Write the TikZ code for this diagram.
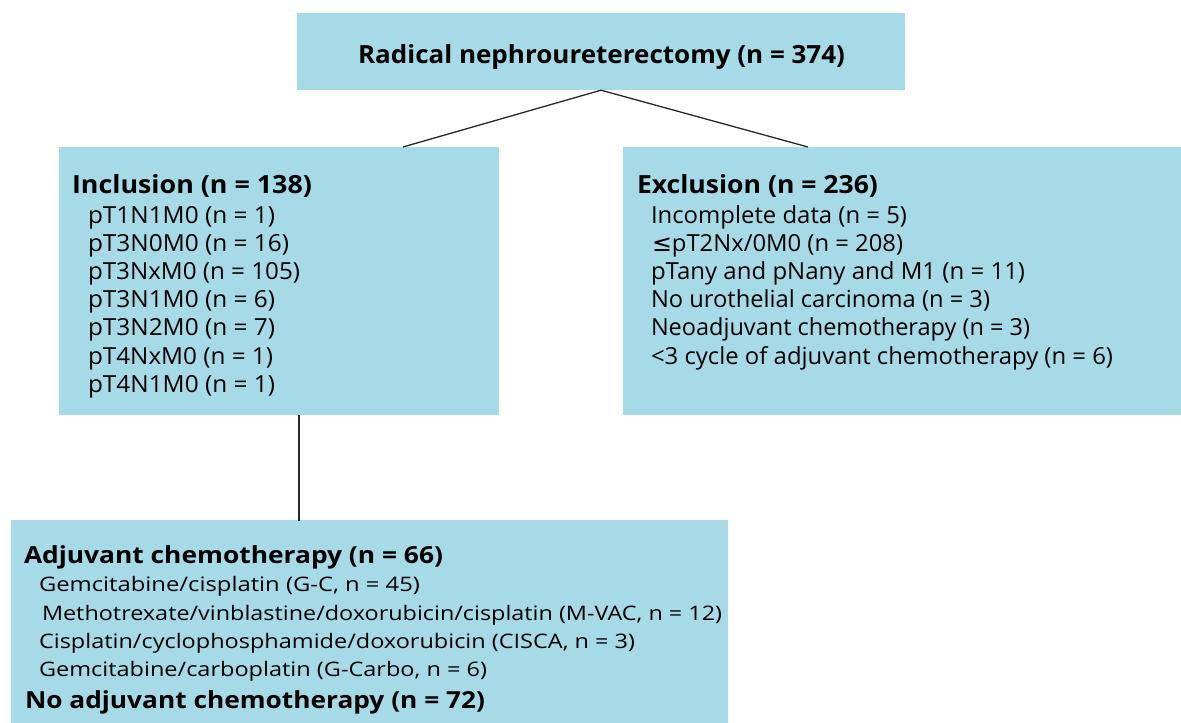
\documentclass[tikz,border=0pt]{standalone}
\usepackage{fontspec}
\usepackage{graphicx}
\setmainfont{Open Sans}
\newfontfamily\symfont{DejaVu Sans}
\definecolor{boxblue}{RGB}{166,218,231}
\definecolor{linegray}{RGB}{40,40,40}
\newcommand\fitw[2]{\resizebox{#1pt}{\height}{#2}}
\newcommand\hdA{\bfseries\fontsize{25}{30}\selectfont}
\newcommand\itmA{\fontsize{23.5}{28}\selectfont}
\newcommand\hdB{\bfseries\fontsize{23.5}{28}\selectfont}
\newcommand\itmB{\fontsize{20}{24}\selectfont}
\tikzset{
  box/.style={fill=boxblue, draw=none, inner sep=0pt, rectangle},
  txt/.style={anchor=base west, inner sep=0pt, outer sep=0pt, text=black},
  conn/.style={draw=linegray, line width=1.3pt}
}
\begin{document}
\begin{tikzpicture}[x=1pt,y=-1pt]
\useasboundingbox (0,0) rectangle (1181,723);
% boxes
\node[box, minimum width=608pt, minimum height=77pt] (top) at (601,51.5) {};
\node[box, minimum width=440pt, minimum height=268pt] (inc) at (279,281) {};
\node[box, minimum width=558pt, minimum height=268pt] (exc) at (902,281) {};
\node[box, minimum width=717pt, minimum height=203pt] (adj) at (369.2,621.7) {};
% connector end points
\coordinate (incT) at (403,147);
\coordinate (excT) at (808,147);
\coordinate (incB) at (299,415);
\coordinate (adjT) at (299,520.5);
\draw[conn] (top.south) -- (incT);
\draw[conn] (top.south) -- (excT);
\draw[conn] (incB) -- (adjT);
% title
\node[txt] (t0) at (358,63) {\fitw{487}{\hdA Radical nephroureterectomy (n = 374)}};
% inclusion
\node[txt] (i0) at (72,193) {\fitw{240}{\hdA Inclusion (n = 138)}};
\node[txt] (i1) at (88,223) {\fitw{187}{\itmA pT1N1M0 (n = 1)}};
\node[txt] (i2) at (88,251.2) {\fitw{201}{\itmA pT3N0M0 (n = 16)}};
\node[txt] (i3) at (88,279.4) {\fitw{212}{\itmA pT3NxM0 (n = 105)}};
\node[txt] (i4) at (88,307.6) {\fitw{187}{\itmA pT3N1M0 (n = 6)}};
\node[txt] (i5) at (88,335.8) {\fitw{187}{\itmA pT3N2M0 (n = 7)}};
\node[txt] (i6) at (88,364) {\fitw{185}{\itmA pT4NxM0 (n = 1)}};
\node[txt] (i7) at (88,392.2) {\fitw{187}{\itmA pT4N1M0 (n = 1)}};
% exclusion
\node[txt] (e0) at (637,193) {\fitw{241}{\hdA Exclusion (n = 236)}};
\node[txt] (e1) at (651,223) {\fitw{256}{\itmA Incomplete data (n = 5)}};
\node[txt] (e2) at (652,251.2) {\fitw{251}{\itmA {\symfont ≤}pT2Nx/0M0 (n = 208)}};
\node[txt] (e3) at (651,279.4) {\fitw{374}{\itmA pTany and pNany and M1 (n = 11)}};
\node[txt] (e4) at (651,307.6) {\fitw{339}{\itmA No urothelial carcinoma (n = 3)}};
\node[txt] (e5) at (651,335.8) {\fitw{379}{\itmA Neoadjuvant chemotherapy (n = 3)}};
\node[txt] (e6) at (651,364) {\fitw{462}{\itmA <3 cycle of adjuvant chemotherapy (n = 6)}};
% adjuvant
\node[txt] (a0) at (24,563) {\fitw{419}{\hdB Adjuvant chemotherapy (n = 66)}};
\node[txt] (a1) at (39,591.7) {\fitw{381}{\itmB Gemcitabine/cisplatin (G-C, n = 45)}};
\node[txt] (a2) at (42,620) {\fitw{680}{\itmB Methotrexate/vinblastine/doxorubicin/cisplatin (M-VAC, n = 12)}};
\node[txt] (a3) at (39,648) {\fitw{596}{\itmB Cisplatin/cyclophosphamide/doxorubicin (CISCA, n = 3)}};
\node[txt] (a4) at (39,676.7) {\fitw{448}{\itmB Gemcitabine/carboplatin (G-Carbo, n = 6)}};
\node[txt] (a5) at (25,708) {\fitw{460}{\hdB No adjuvant chemotherapy (n = 72)}};
\end{tikzpicture}
\end{document}
